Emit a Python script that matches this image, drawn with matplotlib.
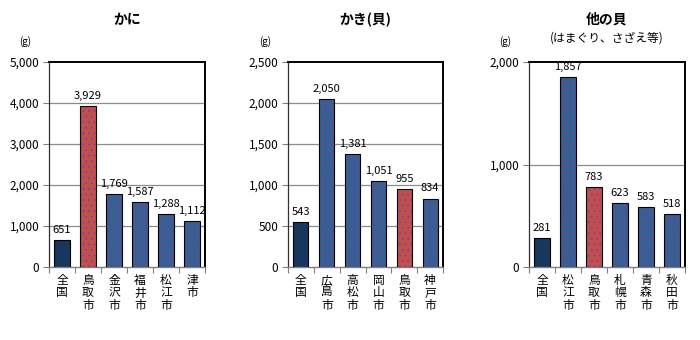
import matplotlib
matplotlib.use("Agg")
import matplotlib.pyplot as plt
import numpy as np

plt.rcParams['font.family'] = ['Noto Sans CJK JP', 'DejaVu Sans']
plt.rcParams['hatch.linewidth'] = 0.6

# かに
kani_cities = ['全国', '鳥取市', '金沢市', '福井市', '松江市', '津市']
kani_values = [651, 3929, 1769, 1587, 1288, 1112]

# かき(貝)
kaki_cities = ['全国', '広島市', '高松市', '岡山市', '鳥取市', '神戸市']
kaki_values = [543, 2050, 1381, 1051, 955, 834]

# 他の貝
hoka_cities = ['全国', '松江市', '鳥取市', '札幌市', '青森市', '秋田市']
hoka_values = [281, 1857, 783, 623, 583, 518]

NAVY = '#17375E'
BLUE = '#376092'
RED = '#C0504D'
DOT = '#7A3FA0'

W, H = 700, 340
fig = plt.figure(figsize=(W / 100, H / 100), dpi=100)


def bar_colors(cities):
    out = []
    for c in cities:
        if c == '全国':
            out.append(NAVY)
        elif c == '鳥取市':
            out.append(RED)
        else:
            out.append(BLUE)
    return out


def panel(left, width, cities, values, ymax, step, title, subtitle=None, unit_x=None):
    ax = fig.add_axes([left / W, (H - 267) / H, width / W, 205 / H])
    x = np.arange(len(cities))
    cols = bar_colors(cities)
    bw = 0.58
    ax.bar(x, values, bw, color=cols, linewidth=0, zorder=2)
    # dotted fill on the city bars only
    ax.bar(x[1:], values[1:], bw, fill=False, hatch='...', edgecolor=DOT, linewidth=0, zorder=3)
    ax.bar(x, values, bw, fill=False, edgecolor='black', linewidth=0.8, zorder=4)

    for xi, v in zip(x, values):
        ax.text(xi, v + ymax * 0.025, f'{v:,}', ha='center', va='bottom', fontsize=8)

    ax.set_xlim(-0.5, len(cities) - 0.5)
    ax.set_ylim(0, ymax)
    ticks = np.arange(0, ymax + 1, step)
    ax.set_yticks(ticks)
    ax.set_yticklabels([f'{t:,}' for t in ticks], fontsize=8.5)
    for t in ticks[1:-1]:
        ax.axhline(t, color='#8C8C8C', lw=0.9, zorder=1)

    ax.set_xticks(x)
    ax.set_xticklabels(['\n'.join(c) for c in cities], fontsize=8.5,
                       linespacing=0.95, va='top')
    ax.set_xticks(np.arange(-0.5, len(cities), 1), minor=True)
    ax.tick_params(axis='x', which='major', length=0, pad=5)
    ax.tick_params(axis='x', which='minor', length=4, color='#808080', width=0.8)
    ax.tick_params(axis='y', length=4, color='#808080', width=0.8, pad=3)

    for s in ('top', 'right'):
        ax.spines[s].set_color('black')
        ax.spines[s].set_linewidth(1.4)
    ax.spines['left'].set_color('#303030')
    ax.spines['left'].set_linewidth(0.9)
    ax.spines['bottom'].set_color('#808080')
    ax.spines['bottom'].set_linewidth(1.0)

    cx = (left + width / 2) / W
    fig.text(cx, 1 - 20 / H, title, ha='center', va='center', fontsize=10, fontweight='bold')
    if subtitle:
        fig.text(cx, 1 - 38 / H, subtitle, ha='center', va='center', fontsize=8.5)
    fig.text(unit_x / W, 1 - 42 / H, '(g)', ha='center', va='center', fontsize=7)
    return ax


panel(49, 156, kani_cities, kani_values, 5000, 1000, 'かに', unit_x=25)
panel(288, 155, kaki_cities, kaki_values, 2500, 500, 'かき(貝)', unit_x=265)
panel(529, 156, hoka_cities, hoka_values, 2000, 1000, '他の貝', '(はまぐり、さざえ等)', unit_x=505)

fig.savefig('out.png', dpi=100)
